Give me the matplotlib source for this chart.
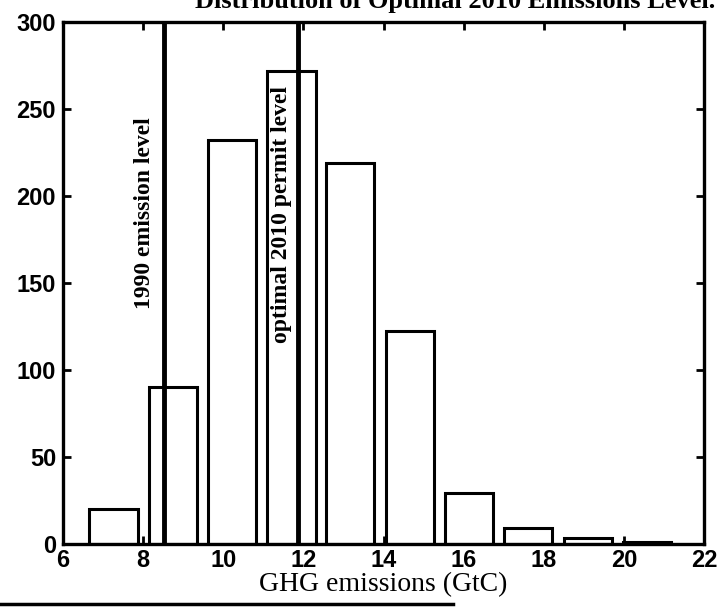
import matplotlib
matplotlib.use("Agg")
import matplotlib.pyplot as plt
from matplotlib.lines import Line2D

# histogram of simulated GHG emissions (GtC)
bin_centers = [7.26, 8.74, 10.22, 11.70, 13.17, 14.65, 16.13, 17.61, 19.09, 20.57]
counts = [20, 90, 232, 272, 219, 122, 29, 9, 3, 1]
bar_width = 1.2

emission_1990 = 8.53
permit_2010 = 11.86

x_ticks = [6, 8, 10, 12, 14, 16, 18, 20, 22]
y_ticks = [0, 50, 100, 150, 200, 250, 300]

fig = plt.figure(figsize=(7.19, 6.08), dpi=100)
ax = fig.add_axes([0.0876, 0.106, 0.892, 0.858])

ax.bar(bin_centers, counts, width=bar_width, facecolor="white",
       edgecolor="black", linewidth=2.2, zorder=2)

ax.axvline(emission_1990, color="black", linewidth=3.5, zorder=3)
ax.axvline(permit_2010, color="black", linewidth=3.5, zorder=3)

serif = ["Liberation Serif", "DejaVu Serif"]
ax.text(8.03, 190, "1990 emission level", rotation=90, ha="center",
        va="center", fontsize=17, fontweight="bold", family=serif, zorder=4)
ax.text(11.45, 189, "optimal 2010 permit level", rotation=90, ha="center",
        va="center", fontsize=17, fontweight="bold", family=serif, zorder=4,
        bbox=dict(facecolor="white", edgecolor="none", pad=0.5))

ax.set_xlim(6, 22)
ax.set_ylim(0, 300)
ax.set_xticks(x_ticks)
ax.set_yticks(y_ticks)
ax.tick_params(direction="in", top=True, right=True, length=6, width=2,
               labelsize=17)
ax.tick_params(axis="y", pad=5)
ax.tick_params(axis="x", pad=4)
for lab in ax.get_xticklabels() + ax.get_yticklabels():
    lab.set_fontweight("bold")
    lab.set_family(["Liberation Sans", "DejaVu Sans"])
for sp in ax.spines.values():
    sp.set_linewidth(2.4)

ax.set_xlabel("GHG emissions (GtC)", fontsize=20, family=serif, labelpad=0)

# caption of the scanned page, only its lower half shows
fig.text(0.995, 0.998, "Distribution of Optimal 2010 Emissions Level.", ha="right",
         va="center", fontsize=19, fontweight="bold", family=serif)

# page rule at the bottom
fig.add_artist(Line2D([0.0, 0.63], [0.007, 0.007], color="black",
                      linewidth=2.5, transform=fig.transFigure))

fig.savefig("out.png", dpi=100, facecolor="white")
